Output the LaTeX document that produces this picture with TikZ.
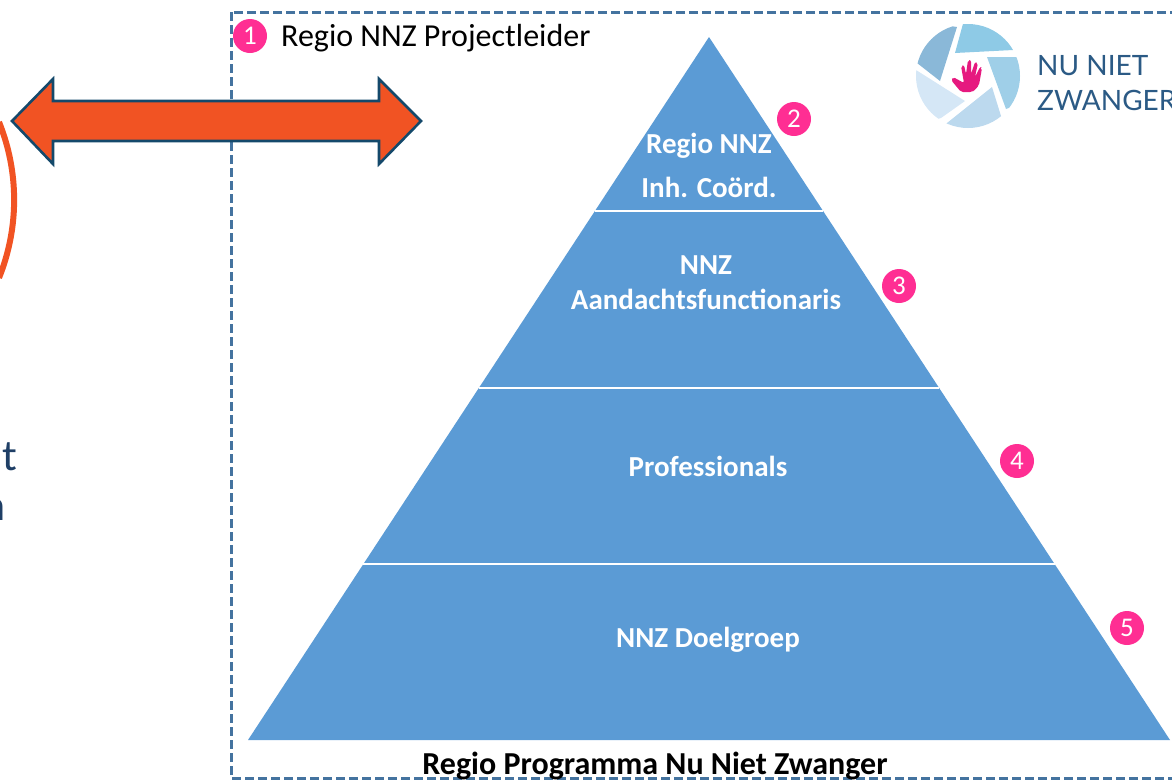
\documentclass[tikz,border=0pt]{standalone}
\usepackage{fontspec}
\setmainfont{Carlito}
\newfontfamily\logofont{Lato}
\definecolor{pyramidblue}{HTML}{5B9BD5}
\definecolor{badgepink}{HTML}{FF2E93}
\definecolor{handpink}{HTML}{E6197F}
\definecolor{arroworange}{HTML}{F15323}
\definecolor{arrowedge}{HTML}{14496B}
\definecolor{dashblue}{HTML}{44739F}
\definecolor{inknavy}{HTML}{1F3F66}
\definecolor{logotext}{HTML}{2B5A85}
\definecolor{bladeA}{HTML}{8AB8D8}
\definecolor{bladeB}{HTML}{8ECAE6}
\definecolor{bladeC}{HTML}{9FCFE8}
\definecolor{bladeD}{HTML}{BCD9EE}
\definecolor{bladeE}{HTML}{D5E7F6}
\tikzset{
        badge/.style={circle, fill=badgepink, text=white, inner sep=0pt, minimum size=34pt, font=\fontsize{27}{27}\selectfont},
        layerlabel/.style={text=white, align=center, inner sep=0pt, font=\fontsize{29}{35}\selectfont\bfseries},
        logolabel/.style={anchor=west, align=left, inner sep=0pt, text=logotext, font=\fontsize{28}{35}\selectfont\logofont}
        }

\begin{document}
\begin{tikzpicture}[x=1pt, y=-1pt]
        \useasboundingbox (0,0) rectangle (1172,780);
        % frame
        \draw[dashblue, line width=3pt, dash pattern=on 9pt off 4pt] (231,12) rectangle (1174,778);
        % pyramid
        \coordinate (apex) at (709,37);
        \coordinate (baseL) at (248,740);
        \coordinate (baseR) at (1170,740);
        \fill[pyramidblue] (apex) -- (baseL) -- (baseR) -- cycle;
        \draw[white, line width=1.5pt] (595,211) -- (823,211)
              (479,388) -- (939,388)
              (363,564) -- (1055,564);
        \node[layerlabel] (coord) at (709,165) {Regio NNZ\\[9pt]Inh. Coörd.};
        \node[layerlabel] (func) at (706,283) {NNZ\\Aandachtsfunctionaris};
        \node[layerlabel] (prof) at (708,466) {Professionals};
        \node[layerlabel] (doel) at (708,640) {NNZ Doelgroep};
        % badges
        \node[badge] (b1) at (250,36) {1};
        \node[badge] (b2) at (794,119) {2};
        \node[badge] (b3) at (899,286) {3};
        \node[badge] (b4) at (1017,461) {4};
        \node[badge] (b5) at (1127,628) {5};
        \node[anchor=west, inner sep=0pt, font=\fontsize{32}{32}\selectfont] (lead) at (281,38) {Regio NNZ Projectleider};
        \node[inner sep=0pt, font=\fontsize{32}{32}\selectfont\bfseries] (prog) at (655,766) {Regio Programma Nu Niet Zwanger};
        % double arrow
        \draw[fill=arroworange, draw=arrowedge, line width=2.6pt, line join=miter]
              (12,121) -- (53,79) -- (53,101) -- (379,101) -- (379,79) -- (421,121)
              -- (379,164) -- (379,141) -- (53,141) -- (53,164) -- cycle;
        % cut off at the left edge
        \draw[arroworange, line width=6pt] (-1,122) arc[start angle=-22, end angle=22, radius=208];
        \node[anchor=east, inner sep=0pt, text=inknavy, font=\fontsize{44}{44}\selectfont] (cutt) at (17,457) {t};
        \node[anchor=east, inner sep=0pt, text=inknavy, font=\fontsize{44}{44}\selectfont] (cutn) at (6,510) {n};
        % logo
        \begin{scope}
        \clip (968,76) circle (52);
        \fill[bladeA] (957,27) -- (940,81) -- (917,63) -- (910,20) -- cycle;
        \fill[bladeB] (964,20) -- (1030,20) -- (1013,50) -- (955,53) -- cycle;
        \fill[bladeC] (987,57) -- (1030,57) -- (1030,100) -- (1006,109) -- cycle;
        \fill[bladeD] (992,87) -- (1001,116) -- (1000,140) -- (930,133) -- (947,123) -- cycle;
        \fill[bladeE] (916,70) -- (965,101) -- (941,118) -- (900,130) -- (900,70) -- cycle;
        \end{scope}
        % hand
        \fill[handpink, rounded corners=2pt] (961,92) -- (951,80) -- (953,77) -- (964,83) -- (961,66) -- (964,65) -- (966,74)
              -- (968,60) -- (971,60) -- (971,74) -- (975,62) -- (978,63) -- (975,77) -- (980,67) -- (982,68) -- (979,85) -- (975,90) -- (972,92) -- cycle;
        \node[logolabel] (logo) at (1037,83) {NU NIET\\ZWANGER};
\end{tikzpicture}
\end{document}
